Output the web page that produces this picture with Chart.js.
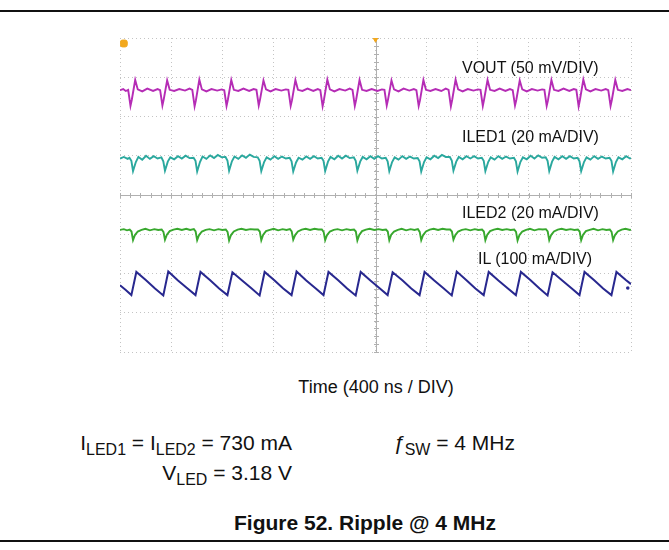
<!DOCTYPE html>
<html>
<head>
<meta charset="utf-8">
<script src="https://cdn.jsdelivr.net/npm/chart.js@4"></script>
<style>
  html,body{margin:0;padding:0;background:#fff;}
  body{width:669px;height:550px;position:relative;overflow:hidden;font-family:"Liberation Sans",Arial,sans-serif;color:#111;}
  #wrap{position:absolute;left:0;top:0;width:669px;height:360px;}
  .rule{position:absolute;left:0;width:669px;height:2px;background:#111;}
  .t{position:absolute;white-space:nowrap;line-height:1;}
  .lab{font-size:16px;}
  sub{font-size:0.76em;vertical-align:-0.3em;line-height:0;}
</style>
</head>
<body>
<div class="rule" style="top:10px"></div>
<div id="wrap"><canvas id="c" width="669" height="360"></canvas></div>
<div class="t lab" style="left:462px;top:60px">VOUT (50 mV/DIV)</div>
<div class="t lab" style="left:462px;top:129px">ILED1 (20 mA/DIV)</div>
<div class="t lab" style="left:462px;top:205px">ILED2 (20 mA/DIV)</div>
<div class="t lab" style="left:478px;top:251px">IL (100 mA/DIV)</div>
<div class="t" style="left:0;width:752px;text-align:center;top:378px;font-size:18px">Time (400 ns / DIV)</div>
<div class="t" style="right:377px;top:432px;font-size:21px">I<sub>LED1</sub> = I<sub>LED2</sub> = 730 mA</div>
<div class="t" style="right:377px;top:462px;font-size:21px">V<sub>LED</sub> = 3.18 V</div>
<div class="t" style="left:393px;top:432px;font-size:21px"><i>ƒ</i><sub>SW</sub> = 4 MHz</div>
<div class="t" style="left:0;width:730px;text-align:center;top:512px;font-size:21px;font-weight:bold">Figure 52. Ripple @ 4 MHz</div>
<div class="rule" style="top:540px"></div>
<script>
// x in ns (400 ns / div, 10 div), y in scope divisions (-4 .. 4)
const xTicks = [0,400,800,1200,1600,2000,2400,2800,3200,3600,4000];
const yTicks = [-4,-3,-2,-1,0,1,2,3,4];

const vout = [[0,2.67],[25,2.70],[45,2.65],
[64,2.68],[82,2.27],[92,2.42],[119,2.93],[139,2.69],[174,2.64],[214,2.71],[259,2.65],[294,2.70],
[314,2.67],[332,2.28],[342,2.43],[369,2.92],[389,2.68],[424,2.65],[464,2.70],[509,2.66],[544,2.71],
[566,2.68],[584,2.26],[594,2.41],[621,2.94],[641,2.69],[676,2.64],[716,2.70],[761,2.66],[796,2.69],
[816,2.67],[834,2.27],[844,2.42],[871,2.93],[891,2.68],[926,2.65],[966,2.71],[1011,2.65],[1046,2.70],
[1068,2.68],[1086,2.28],[1096,2.43],[1123,2.92],[1143,2.69],[1178,2.64],[1218,2.70],[1263,2.66],[1298,2.69],
[1318,2.68],[1336,2.27],[1346,2.41],[1373,2.93],[1393,2.68],[1428,2.65],[1468,2.71],[1513,2.65],[1548,2.70],
[1568,2.67],[1586,2.26],[1596,2.42],[1623,2.94],[1643,2.69],[1678,2.64],[1718,2.70],[1763,2.66],[1798,2.71],
[1820,2.68],[1838,2.27],[1848,2.42],[1875,2.93],[1895,2.68],[1930,2.65],[1970,2.70],[2015,2.65],[2050,2.69],
[2070,2.68],[2088,2.28],[2098,2.43],[2125,2.92],[2145,2.69],[2180,2.64],[2220,2.71],[2265,2.66],[2300,2.70],
[2320,2.67],[2338,2.27],[2348,2.41],[2375,2.93],[2395,2.68],[2430,2.65],[2470,2.70],[2515,2.65],[2550,2.71],
[2572,2.68],[2590,2.26],[2600,2.42],[2627,2.94],[2647,2.69],[2682,2.64],[2722,2.70],[2767,2.66],[2802,2.69],
[2822,2.68],[2840,2.27],[2850,2.43],[2877,2.93],[2897,2.68],[2932,2.65],[2972,2.71],[3017,2.65],[3052,2.70],
[3074,2.67],[3092,2.28],[3102,2.42],[3129,2.92],[3149,2.69],[3184,2.64],[3224,2.70],[3269,2.66],[3304,2.69],
[3322,2.68],[3340,2.27],[3350,2.41],[3377,2.93],[3397,2.68],[3432,2.65],[3472,2.71],[3517,2.65],[3552,2.70],
[3572,2.68],[3590,2.26],[3600,2.42],[3627,2.94],[3647,2.69],[3682,2.64],[3722,2.70],[3767,2.66],[3802,2.70],
[3822,2.67],[3840,2.27],[3850,2.42],[3877,2.93],[3897,2.68],[3932,2.65],[3972,2.70],[4000,2.67]];

const iled1 = [[0,0.93],[30,0.97],[60,0.92],
[74,0.95],[89,0.87],[102,0.61],[124,0.84],[144,0.97],[174,0.90],[204,1.00],[234,0.92],[264,0.99],[294,0.93],
[324,0.96],[339,0.86],[352,0.62],[374,0.85],[394,0.96],[424,0.91],[454,0.99],[484,0.93],[514,1.00],[544,0.94],
[576,0.95],[591,0.87],[604,0.60],[626,0.84],[646,0.98],[676,0.92],[706,1.01],[736,0.94],[766,1.02],[796,0.96],
[826,0.97],[841,0.88],[854,0.62],[876,0.86],[896,0.98],[926,0.92],[956,1.01],[986,0.95],[1016,1.03],[1046,0.97],
[1078,0.96],[1093,0.87],[1106,0.61],[1128,0.84],[1148,0.96],[1178,0.90],[1208,0.99],[1238,0.92],[1268,0.98],[1298,0.93],
[1328,0.95],[1343,0.86],[1356,0.60],[1378,0.83],[1398,0.95],[1428,0.90],[1458,0.98],[1488,0.92],[1518,0.99],[1548,0.93],
[1578,0.95],[1593,0.87],[1606,0.61],[1628,0.85],[1648,0.97],[1678,0.91],[1708,1.00],[1738,0.93],[1768,1.00],[1798,0.94],
[1830,0.96],[1845,0.87],[1858,0.62],[1880,0.85],[1900,0.97],[1930,0.91],[1960,0.99],[1990,0.92],[2020,0.99],[2050,0.93],
[2080,0.95],[2095,0.86],[2108,0.61],[2130,0.84],[2150,0.96],[2180,0.90],[2210,0.99],[2240,0.92],[2270,0.98],[2300,0.93],
[2330,0.94],[2345,0.86],[2358,0.60],[2380,0.84],[2400,0.96],[2430,0.91],[2460,1.00],[2490,0.94],[2520,1.02],[2550,0.97],
[2582,0.97],[2597,0.88],[2610,0.62],[2632,0.85],[2652,0.97],[2682,0.91],[2712,0.99],[2742,0.93],[2772,0.99],[2802,0.93],
[2832,0.95],[2847,0.87],[2860,0.61],[2882,0.84],[2902,0.96],[2932,0.90],[2962,0.99],[2992,0.92],[3022,0.98],[3052,0.93],
[3084,0.95],[3099,0.86],[3112,0.60],[3134,0.84],[3154,0.96],[3184,0.91],[3214,1.00],[3244,0.93],[3274,1.01],[3304,0.95],
[3332,0.96],[3347,0.87],[3360,0.61],[3382,0.85],[3402,0.97],[3432,0.91],[3462,0.99],[3492,0.92],[3522,0.99],[3552,0.93],
[3582,0.95],[3597,0.86],[3610,0.61],[3632,0.84],[3652,0.96],[3682,0.90],[3712,0.99],[3742,0.92],[3772,0.98],[3802,0.93],
[3832,0.95],[3847,0.87],[3860,0.60],[3882,0.84],[3902,0.96],[3932,0.91],[3962,0.99],[3992,0.93],[4000,0.94]];

const iled2 = [[0,-0.89],[30,-0.87],[55,-0.90],
[76,-0.88],[90,-0.93],[102,-1.15],[117,-1.02],[139,-0.93],[169,-0.89],[199,-0.86],[234,-0.90],[269,-0.87],[299,-0.89],
[326,-0.88],[340,-0.94],[352,-1.14],[367,-1.01],[389,-0.92],[419,-0.88],[449,-0.86],[484,-0.89],[519,-0.86],[549,-0.89],
[578,-0.87],[592,-0.93],[604,-1.15],[619,-1.02],[641,-0.93],[671,-0.89],[701,-0.87],[736,-0.90],[771,-0.87],[801,-0.89],
[828,-0.88],[842,-0.94],[854,-1.16],[869,-1.02],[891,-0.93],[921,-0.88],[951,-0.86],[986,-0.89],[1021,-0.87],[1051,-0.88],
[1080,-0.88],[1094,-0.93],[1106,-1.15],[1121,-1.01],[1143,-0.92],[1173,-0.89],[1203,-0.86],[1238,-0.90],[1273,-0.87],[1303,-0.89],
[1330,-0.87],[1344,-0.93],[1356,-1.14],[1371,-1.02],[1393,-0.93],[1423,-0.88],[1453,-0.86],[1488,-0.89],[1523,-0.86],[1553,-0.88],
[1580,-0.88],[1594,-0.94],[1606,-1.15],[1621,-1.02],[1643,-0.93],[1673,-0.89],[1703,-0.87],[1738,-0.90],[1773,-0.87],[1803,-0.89],
[1832,-0.88],[1846,-0.93],[1858,-1.16],[1873,-1.02],[1895,-0.92],[1925,-0.88],[1955,-0.86],[1990,-0.89],[2025,-0.87],[2055,-0.89],
[2082,-0.88],[2096,-0.93],[2108,-1.15],[2123,-1.01],[2145,-0.93],[2175,-0.89],[2205,-0.86],[2240,-0.90],[2275,-0.87],[2305,-0.89],
[2332,-0.87],[2346,-0.94],[2358,-1.15],[2373,-1.02],[2395,-0.93],[2425,-0.88],[2455,-0.86],[2490,-0.89],[2525,-0.86],[2555,-0.88],
[2584,-0.88],[2598,-0.93],[2610,-1.14],[2625,-1.02],[2647,-0.93],[2677,-0.89],[2707,-0.87],[2742,-0.90],[2777,-0.87],[2807,-0.89],
[2834,-0.88],[2848,-0.93],[2860,-1.15],[2875,-1.01],[2897,-0.92],[2927,-0.88],[2957,-0.86],[2992,-0.89],[3027,-0.87],[3057,-0.89],
[3086,-0.88],[3100,-0.94],[3112,-1.16],[3127,-1.02],[3149,-0.93],[3179,-0.89],[3209,-0.86],[3244,-0.90],[3279,-0.87],[3309,-0.88],
[3334,-0.87],[3348,-0.93],[3360,-1.15],[3375,-1.02],[3397,-0.93],[3427,-0.88],[3457,-0.86],[3492,-0.89],[3527,-0.87],[3557,-0.89],
[3584,-0.88],[3598,-0.93],[3610,-1.15],[3625,-1.01],[3647,-0.92],[3677,-0.89],[3707,-0.86],[3742,-0.90],[3777,-0.87],[3807,-0.89],
[3834,-0.88],[3848,-0.94],[3860,-1.15],[3875,-1.02],[3897,-0.93],[3927,-0.88],[3957,-0.86],[3992,-0.89],[4000,-0.88]];

const il = [[0,-2.30],[45,-2.42],
[89,-2.55],[128,-1.96],[204,-2.17],[274,-2.38],
[339,-2.56],[378,-1.95],[454,-2.18],[524,-2.37],
[591,-2.55],[630,-1.96],[706,-2.17],[776,-2.38],
[841,-2.55],[880,-1.97],[956,-2.18],[1026,-2.37],
[1093,-2.56],[1132,-1.96],[1208,-2.17],[1278,-2.38],
[1343,-2.55],[1382,-1.95],[1458,-2.18],[1528,-2.37],
[1593,-2.55],[1632,-1.96],[1708,-2.17],[1778,-2.38],
[1845,-2.56],[1884,-1.96],[1960,-2.18],[2030,-2.37],
[2095,-2.55],[2134,-1.97],[2210,-2.17],[2280,-2.38],
[2345,-2.55],[2384,-1.96],[2460,-2.18],[2530,-2.37],
[2597,-2.56],[2636,-1.95],[2712,-2.17],[2782,-2.38],
[2847,-2.55],[2886,-1.96],[2962,-2.18],[3032,-2.37],
[3099,-2.55],[3138,-1.96],[3214,-2.17],[3284,-2.38],
[3347,-2.56],[3386,-1.97],[3462,-2.18],[3532,-2.37],
[3597,-2.55],[3636,-1.96],[3712,-2.17],[3782,-2.38],
[3847,-2.55],[3886,-1.96],[3962,-2.17],[4000,-2.27]];

const ch1Marker = [[30,3.86]];
const triggerMarker = [[2000,3.97]];
const ilMarker = [[3975,-2.37]];

const scopeCenter = {
  id:'scopeCenter',
  beforeDatasetsDraw(chart){
    const {ctx, chartArea:a, scales:{x,y}} = chart;
    const cx = Math.round(x.getPixelForValue(2000))+0.5;
    const cy = Math.round(y.getPixelForValue(0))+0.5;
    ctx.save();
    ctx.strokeStyle = '#b0b0b0';
    ctx.lineWidth = 1;
    ctx.beginPath();
    ctx.moveTo(cx, a.top); ctx.lineTo(cx, a.bottom);
    ctx.moveTo(a.left, cy); ctx.lineTo(a.right, cy);
    for (let t = 0; t <= 4000; t += 80) {
      const px = Math.round(x.getPixelForValue(t))+0.5;
      ctx.moveTo(px, cy-2.5); ctx.lineTo(px, cy+2.5);
    }
    for (let k = -20; k <= 20; k++) {
      const py = Math.round(y.getPixelForValue(k/5))+0.5;
      ctx.moveTo(cx-2.5, py); ctx.lineTo(cx+2.5, py);
    }
    ctx.stroke();
    ctx.restore();
  }
};

const trace = (data, color, w) => ({
  data, borderColor: color, borderWidth: w, pointRadius: 0, tension: 0, fill: false
});

new Chart(document.getElementById('c'), {
  type: 'line',
  data: {
    datasets: [
      trace(vout, '#b52cb5', 1.9),
      trace(iled1, '#2aa89e', 1.9),
      trace(iled2, '#38a82e', 1.9),
      trace(il, '#28288f', 2),
      {data: ch1Marker, showLine:false, pointStyle:'rectRounded', pointRadius:4, backgroundColor:'#f2a81e', borderColor:'#f2a81e'},
      {data: triggerMarker, showLine:false, pointStyle:'triangle', rotation:180, pointRadius:3, backgroundColor:'#f2a81e', borderColor:'#f2a81e'},
      {data: ilMarker, showLine:false, pointStyle:'rect', pointRadius:1.5, backgroundColor:'#28288f', borderColor:'#28288f'}
    ]
  },
  options: {
    responsive: false,
    animation: false,
    events: [],
    layout: {padding: {left:120, right:38, top:38, bottom:8}},
    plugins: {legend:{display:false}, tooltip:{enabled:false}},
    scales: {
      x: {
        type: 'linear', min: 0, max: 4000,
        afterBuildTicks: s => { s.ticks = xTicks.map(v => ({value:v})); },
        ticks: {display:false},
        grid: {color:'#c4c4c4', lineWidth:1, drawTicks:false},
        border: {display:false, dash:[1,3]}
      },
      y: {
        type: 'linear', min: -4, max: 4,
        afterBuildTicks: s => { s.ticks = yTicks.map(v => ({value:v})); },
        ticks: {display:false},
        grid: {color:'#c4c4c4', lineWidth:1, drawTicks:false},
        border: {display:false, dash:[1,3]}
      }
    }
  },
  plugins: [scopeCenter]
});
</script>
</body>
</html>
